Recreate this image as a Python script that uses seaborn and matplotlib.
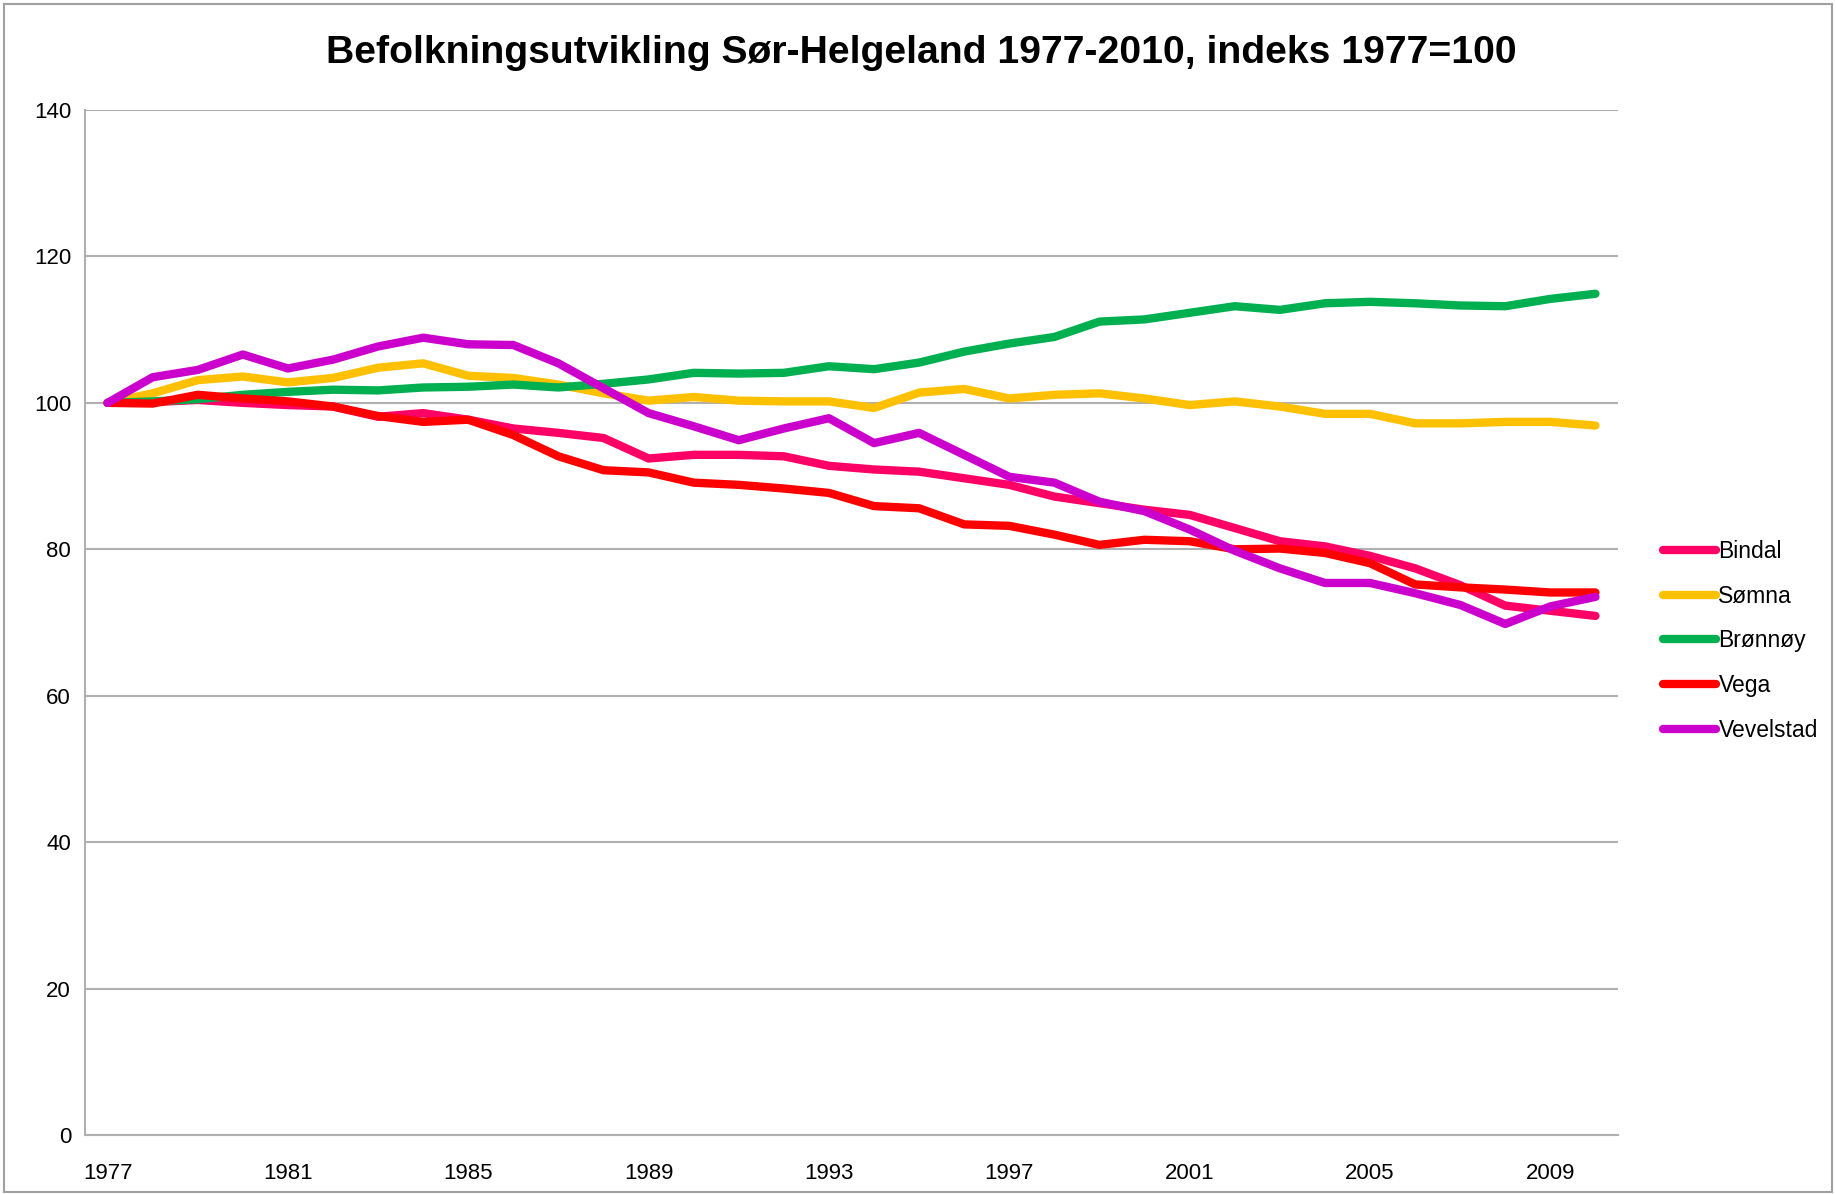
import matplotlib
matplotlib.use("Agg")
import matplotlib.pyplot as plt
import numpy as np
import pandas as pd
import seaborn as sns

# Indeks 1977=100
aar = list(range(1977, 2011))

bindal = [100, 100.1, 100.4, 100.0, 99.7, 99.5, 98.1, 98.6, 97.7, 96.5,
          95.9, 95.2, 92.4, 92.9, 92.9, 92.7, 91.4, 90.9, 90.6, 89.7,
          88.8, 87.2, 86.3, 85.4, 84.7, 82.9, 81.1, 80.4, 79.1, 77.4,
          75.1, 72.3, 71.6, 70.9]
somna = [100, 101.3, 103.1, 103.6, 102.8, 103.4, 104.8, 105.4, 103.7, 103.4,
         102.5, 101.3, 100.3, 100.8, 100.3, 100.2, 100.2, 99.3, 101.4, 101.9,
         100.6, 101.1, 101.3, 100.6, 99.7, 100.2, 99.5, 98.5, 98.5, 97.2,
         97.2, 97.4, 97.4, 96.9]
bronnoy = [100, 100.2, 100.5, 101.1, 101.5, 101.8, 101.7, 102.1, 102.2, 102.5,
           102.1, 102.6, 103.2, 104.1, 104.0, 104.1, 105.0, 104.6, 105.5, 107.0,
           108.1, 109.0, 111.1, 111.4, 112.3, 113.2, 112.7, 113.6, 113.8, 113.6,
           113.3, 113.2, 114.2, 114.9]
vega = [100, 99.9, 101.1, 100.6, 100.2, 99.5, 98.2, 97.4, 97.7, 95.6,
        92.7, 90.8, 90.5, 89.1, 88.8, 88.3, 87.7, 85.9, 85.6, 83.4,
        83.2, 82.0, 80.6, 81.3, 81.1, 80.0, 80.1, 79.5, 78.1, 75.2,
        74.8, 74.5, 74.1, 74.1]
vevelstad = [100, 103.5, 104.5, 106.6, 104.7, 105.9, 107.7, 108.9, 108.0, 107.9,
             105.4, 102.0, 98.6, 96.8, 94.9, 96.5, 97.9, 94.5, 95.9, 92.9,
             89.9, 89.1, 86.5, 85.2, 82.7, 79.8, 77.4, 75.4, 75.4, 74.0,
             72.4, 69.8, 72.2, 73.5]

kommuner = ["Bindal", "Sømna", "Brønnøy", "Vega", "Vevelstad"]
farger = ["#FF0066", "#FFC000", "#00B050", "#FF0000", "#CC00CC"]

df = pd.DataFrame({
    "år": aar * 5,
    "indeks": bindal + somna + bronnoy + vega + vevelstad,
    "kommune": np.repeat(kommuner, len(aar)),
})

sns.set_style("white")
plt.rcParams["font.family"] = ["Liberation Sans Narrow", "Liberation Sans", "DejaVu Sans"]
plt.rcParams["text.color"] = "black"
plt.rcParams["xtick.color"] = "black"
plt.rcParams["ytick.color"] = "black"

fig = plt.figure(figsize=(18.36, 11.94), dpi=100)
ax = fig.add_axes([85 / 1836, 1 - 1135 / 1194, (1618 - 85) / 1836, (1135 - 110) / 1194])

sns.lineplot(data=df, x="år", y="indeks", hue="kommune", hue_order=kommuner,
             palette=farger, linewidth=6, ax=ax, legend=True)
for ln in ax.get_lines():
    ln.set_solid_joinstyle("round")
    ln.set_solid_capstyle("round")

ax.set_xlim(1976.5, 2010.5)
ax.set_ylim(0, 140)
ax.set_yticks(range(0, 141, 20))
ax.set_xticks(range(1977, 2010, 4))
ax.set_xlabel("")
ax.set_ylabel("")
ax.grid(axis="y", color="#B0B0B0", linewidth=1.5)
ax.set_axisbelow(True)
for s in ["top", "right"]:
    ax.spines[s].set_visible(False)
for s in ["left", "bottom"]:
    ax.spines[s].set_color("#B0B0B0")
    ax.spines[s].set_linewidth(1.5)
ax.tick_params(axis="y", length=0, pad=10, labelsize=16)
ax.tick_params(axis="x", length=0, pad=20, labelsize=16)

handles, labels = ax.get_legend_handles_labels()
ax.legend(handles, labels, loc="center left", bbox_to_anchor=(1652 / 1836, 1 - 641 / 1194),
          bbox_transform=fig.transFigure, frameon=False, fontsize=16.5,
          handlelength=2.3, handletextpad=0.1, labelspacing=0.95, borderpad=0)

fig.suptitle("Befolkningsutvikling Sør-Helgeland 1977-2010, indeks 1977=100",
             x=0.502, y=1 - 53 / 1194, va="center", fontsize=28.2, fontweight="bold")

fig.patches.append(plt.Rectangle((0.002, 0.002), 0.996, 0.995, transform=fig.transFigure,
                                 fill=False, edgecolor="#A0A0A0", linewidth=1.5))

fig.savefig("out.png", dpi=100)
